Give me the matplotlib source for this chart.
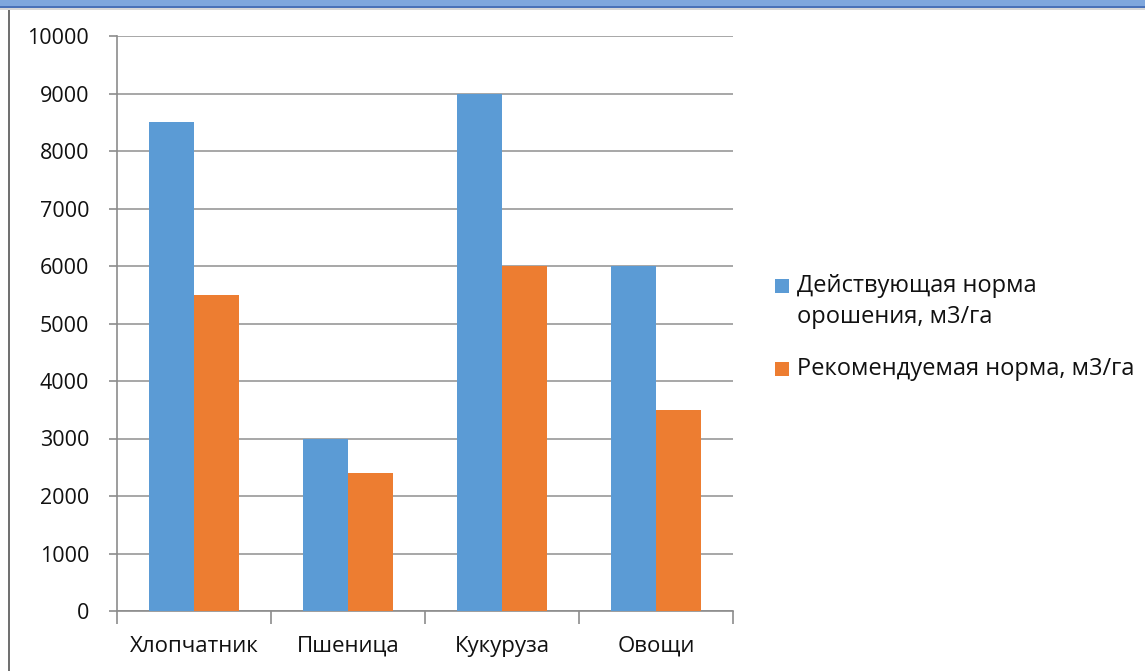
import matplotlib
matplotlib.use("Agg")
import matplotlib.pyplot as plt
from matplotlib.patches import Rectangle
from matplotlib.lines import Line2D
import numpy as np

categories = ["Хлопчатник", "Пшеница", "Кукуруза", "Овощи"]
current_norm = [8500, 3000, 9000, 6000]
recommended_norm = [5500, 2400, 6000, 3500]
series_labels = [["Действующая норма", "орошения, м3/га"], ["Рекомендуемая норма, м3/га"]]
yticks = [0, 1000, 2000, 3000, 4000, 5000, 6000, 7000, 8000, 9000, 10000]

plt.rcParams['font.family'] = ['Open Sans', 'DejaVu Sans']

W, H = 1145, 671
fig = plt.figure(figsize=(W/100, H/100), dpi=100)
ax = fig.add_axes([117/W, 1-611/H, (733-117)/W, (611-36)/H])

x = np.arange(len(categories))
bw = 0.289
blue = '#5b9bd5'
orange = '#ed7d31'
colors = [blue, orange]
ax.bar(x - bw/2, current_norm, width=bw, color=blue, zorder=3)
ax.bar(x + bw/2, recommended_norm, width=bw, color=orange, zorder=3)

ax.set_xlim(-0.5, len(categories) - 0.5)
ax.set_ylim(0, 10000)
ax.set_yticks(yticks)
ax.set_yticklabels([str(v) for v in yticks])
ax.set_xticks(x)
ax.set_xticklabels(categories)
ax.set_xticks(np.arange(-0.5, len(categories), 1.0), minor=True)

grid_c = '#a0a0a0'
ax.yaxis.grid(True, color=grid_c, linewidth=1.3, zorder=0)
for s in ['top', 'right']:
    ax.spines[s].set_visible(False)
ax.spines['left'].set_color('#8c8c8c')
ax.spines['bottom'].set_color('#8c8c8c')
ax.spines['left'].set_linewidth(1.2)
ax.spines['bottom'].set_linewidth(1.2)

ax.tick_params(axis='y', which='major', length=6, color='#8c8c8c', width=1.2, labelsize=15.5, pad=14, labelcolor='#111111')
ax.tick_params(axis='x', which='major', length=0, labelsize=16, pad=18, labelcolor='#111111')
ax.tick_params(axis='x', which='minor', length=9, color='#8c8c8c', width=1.2)

# legend (drawn manually to match the reference layout)
fs_leg = 17
sq = 14
leg_items = [(286, [286, 317]), (368.5, [368.5])]
for (sq_y, line_ys), lines, c in zip(leg_items, series_labels, colors):
    fig.patches.append(Rectangle((775/W, 1-(sq_y+sq/2)/H), sq/W, sq/H, transform=fig.transFigure,
                                 facecolor=c, edgecolor='none'))
    for ly, txt in zip(line_ys, lines):
        fig.text(797/W, 1-ly/H, txt, fontsize=fs_leg, va='center', ha='left', color='#111111')

# window decorations
fig.patches.append(Rectangle((0, 1-8/H), 1, 8/H, transform=fig.transFigure,
                             facecolor='#7fa7dd', edgecolor='none', zorder=10))
fig.patches.append(Rectangle((0, 1-8/H), 1, 2/H, transform=fig.transFigure,
                             facecolor='#4a72b8', edgecolor='none', zorder=11))
fig.patches.append(Rectangle((0, 1-10/H), 1, 2/H, transform=fig.transFigure,
                             facecolor='#d8d8d8', edgecolor='none', zorder=11))
fig.lines.append(Line2D([8.5/W, 8.5/W], [0, 1-8/H], transform=fig.transFigure,
                        color='#555555', linewidth=1.2))

fig.savefig("out.png", dpi=100)
